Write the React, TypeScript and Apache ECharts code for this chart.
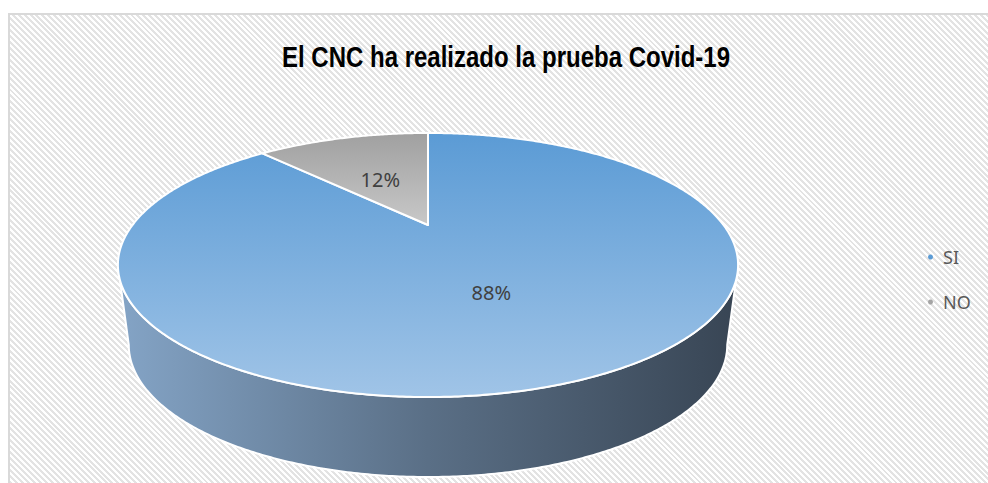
import React, { useEffect, useRef } from 'react';
import * as echarts from 'echarts';

const TITLE = 'El CNC ha realizado la prueba Covid-19';
const categories = ['SI', 'NO'];
const values = [88, 12];

// colours per slice (style)
const legendColors = ['#5b9bd5', '#a5a5a5'];

// 3D pie geometry (layout)
const CX = 428;
const CY = 225;
const A = 295.5;
const B = 119.9;
const K = 0.303;
const DEPTH = 80;
const BOTTOM_SCALE = 0.965;

function proj(theta: number, r: number): number[] {
  const s = Math.sin(theta);
  const c = Math.cos(theta);
  const d = 1 + K * r * c;
  return [CX + (A * r * s) / d, CY - (B * r * c) / d];
}
function projBottom(theta: number): number[] {
  const p = proj(theta, 1);
  return [CX + BOTTOM_SCALE * (p[0] - CX), p[1] + DEPTH];
}

const T1 = Math.acos(-K);
const T2 = 2 * Math.PI - T1;

const topFills = [
  {
    type: 'linear', x: 0, y: 133, x2: 0, y2: 397, global: true,
    colorStops: [
      { offset: 0, color: '#5b9bd5' },
      { offset: 1, color: '#a0c4e7' },
    ],
  },
  {
    type: 'linear', x: 0, y: 133, x2: 0, y2: 225, global: true,
    colorStops: [
      { offset: 0, color: '#a0a0a0' },
      { offset: 1, color: '#c8c8c8' },
    ],
  },
];
const wallFills = [
  {
    type: 'linear', x: 118, y: 0, x2: 738, y2: 0, global: true,
    colorStops: [
      { offset: 0, color: '#84a4c6' },
      { offset: 0.5, color: '#5a6f86' },
      { offset: 1, color: '#384554' },
    ],
  },
  {
    type: 'linear', x: 118, y: 0, x2: 738, y2: 0, global: true,
    colorStops: [
      { offset: 0, color: '#9a9a9a' },
      { offset: 1, color: '#5a5a5a' },
    ],
  },
];

export default function App() {
  const ref = useRef<HTMLDivElement>(null);
  useEffect(() => {
    if (!ref.current) return;
    const chart = echarts.init(ref.current, undefined, { renderer: 'svg' });
    const total = values.reduce((a, b) => a + b, 0);
    const starts: number[] = [];
    let acc = 0;
    values.forEach((v) => {
      starts.push(acc);
      acc += v;
    });

    const renderItem = (params: any, api: any) => {
      const i = params.dataIndex;
      const v = api.value(0);
      const a0 = (starts[i] / total) * Math.PI * 2;
      const a1 = a0 + (v / total) * Math.PI * 2;
      const children: any[] = [];
      const w0 = Math.max(a0, T1);
      const w1 = Math.min(a1, T2);
      if (w1 > w0) {
        const n = Math.max(2, Math.ceil((w1 - w0) / (Math.PI / 360)));
        const pts: number[][] = [];
        for (let k = 0; k <= n; k++) pts.push(proj(w0 + ((w1 - w0) * k) / n, 1));
        for (let k = n; k >= 0; k--) pts.push(projBottom(w0 + ((w1 - w0) * k) / n));
        children.push({
          type: 'polygon',
          shape: { points: pts },
          style: { fill: wallFills[i % wallFills.length], stroke: '#ffffff', lineWidth: 2, lineJoin: 'round' },
        });
      }
      const m = Math.max(2, Math.ceil((a1 - a0) / (Math.PI / 360)));
      const top: number[][] = [proj(0, 0)];
      for (let k = 0; k <= m; k++) top.push(proj(a0 + ((a1 - a0) * k) / m, 1));
      children.push({
        type: 'polygon',
        shape: { points: top },
        style: { fill: topFills[i % topFills.length], stroke: '#ffffff', lineWidth: 2, lineJoin: 'round' },
      });
      const mid = (a0 + a1) / 2;
      const lp = proj(mid, 0.5);
      children.push({
        type: 'text',
        x: lp[0],
        y: lp[1] + 3,
        style: {
          text: Math.round((v / total) * 100) + '%',
          fill: '#404040',
          fontSize: 20,
          fontFamily: '"Noto Sans", "Open Sans", sans-serif',
          align: 'center',
          textAlign: 'center',
          verticalAlign: 'middle',
          textVerticalAlign: 'middle',
        },
      });
      return { type: 'group', children };
    };

    chart.setOption({
      animation: false,
      backgroundColor: 'transparent',
      color: legendColors,
      legend: {
        data: categories,
        orient: 'vertical',
        left: 923,
        top: 243,
        icon: 'circle',
        itemWidth: 5,
        itemHeight: 5,
        itemGap: 27,
        textStyle: {
          fontSize: 18,
          color: '#595959',
          fontFamily: '"Noto Sans", "Open Sans", sans-serif',
          padding: [0, 0, 0, 5],
        },
      },
      graphic: [
        {
          type: 'text',
          x: 506,
          y: 57,
          scaleX: 0.8,
          style: {
            text: TITLE,
            fill: '#000000',
            fontSize: 30,
            fontWeight: 'bold',
            fontFamily: '"Liberation Sans", Arial, sans-serif',
            align: 'center',
            textAlign: 'center',
            verticalAlign: 'middle',
            textVerticalAlign: 'middle',
          },
        },
      ],
      series: [
        {
          type: 'custom',
          name: 'prueba',
          coordinateSystem: 'none',
          renderItem,
          data: values.map((v, i) => ({ name: categories[i], value: [v] })),
          silent: true,
        },
        {
          type: 'pie',
          name: 'legend',
          radius: [0, 0],
          center: [-50, -50],
          label: { show: false },
          labelLine: { show: false },
          silent: true,
          data: values.map((v, i) => ({ name: categories[i], value: v })),
        },
      ],
    });
    return () => chart.dispose();
  }, []);

  return (
    <>
      <div
        style={{
          position: 'absolute',
          left: 8,
          top: 13,
          width: 980,
          height: 470,
          boxSizing: 'border-box',
          border: '2px solid #d9d9d9',
          borderRight: 'none',
          borderBottom: 'none',
          background:
            'repeating-linear-gradient(45deg, #e3e3e3 0px, #e3e3e3 2.1px, #ffffff 2.1px, #ffffff 4.2px)',
        }}
      />
      <div
        ref={ref}
        style={{ position: 'absolute', left: 0, top: 0, width: 988, height: 483 }}
      />
    </>
  );
}
